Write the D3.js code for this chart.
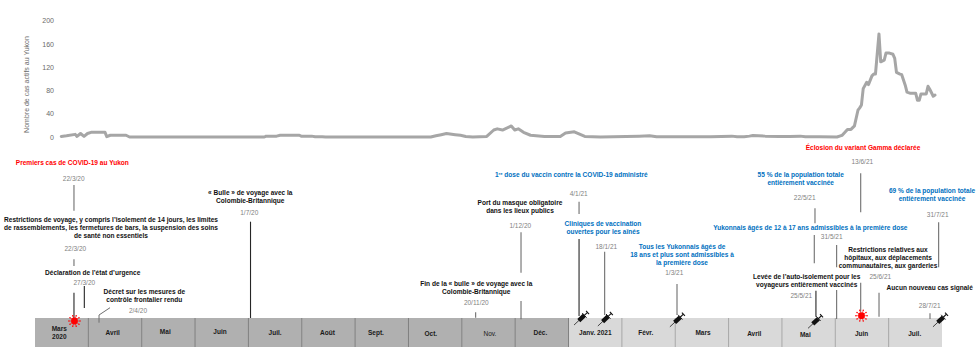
<!DOCTYPE html>
<html><head><meta charset="utf-8">
<script src="https://cdn.jsdelivr.net/npm/d3@7"></script>
<style>html,body{margin:0;padding:0;background:#fff}svg{display:block}text{font-family:"Liberation Sans",Arial,sans-serif}</style>
</head><body><svg id="c" width="980" height="360"></svg>
<script>
// ---- data ----
const monthLabels = [["Mars","2020"],["Avril"],["Mai"],["Juin"],["Juil."],["Août"],["Sept."],["Oct."],["Nov."],["Déc."],["Janv. 2021"],["Févr."],["Mars"],["Avril"],["Mai"],["Juin"],["Juil."]];
const yTicks = [0,40,80,120,160,200];
const caseDays = [15,18,23,24,26,28,30,32,40,41,43,52,54,131,132,138,140,151,152,158,160,164,166,226,229,232,235,240,243,246,250,258,262,264,267,270,272,274,276,279,283,291,300,303,308,311,314,323,345,351,355,386,398,401,405,408,410,417,425,431,437,440,448,458,460,461,464,466,468,470,471,472,473,475,476,478,479,480,482,483,485,486,488,490,491,492,494,495,497,498,500,503,504,505,506,509,510,511,513,514];
const caseValues = [1,2,4.5,1,6,1,6,8,8,0.5,3,3,0,0,1.5,1.5,3,3,1.5,1.5,0.5,0.5,0,0,2,4,6,4,3,1,0,1,12,14,12,16,19,12,14,8,3,1,1,7,9,5,1,0,1.5,2,0.5,0.5,1.5,0.5,0.5,1.5,2.5,1.5,1,1,1.5,0.5,0.5,0,2,3,13,13,19,46,50,55,83,94,90,105,108,108,177,129,132,144,144,142,135,111,108,107,89,77,75,75,63,63,74,74,87,82,70,72];

const noteTexts = [
 ["Premiers cas de COVID-19 au Yukon"],
 ["Restrictions de voyage, y compris l’isolement de 14 jours, les limites","de rassemblements, les fermetures de bars, la suspension des soins","de santé non essentiels"],
 ["Déclaration de l’état d’urgence"],
 ["Décret sur les mesures de","contrôle frontalier rendu"],
 ["« Bulle » de voyage avec la","Colombie-Britannique"],
 ["1re dose du vaccin contre la COVID-19 administré"],
 ["Port du masque obligatoire","dans les lieux publics"],
 ["Cliniques de vaccination","ouvertes pour les aînés"],
 ["Fin de la « bulle » de voyage avec la","Colombie-Britannique"],
 ["Tous les Yukonnais âgés de","18 ans et plus sont admissibles à","la première dose"],
 ["55 % de la population totale","entièrement vaccinée"],
 ["Éclosion du variant Gamma déclarée"],
 ["69 % de la population totale","entièrement vaccinée"],
 ["Yukonnais âgés de 12 à 17 ans admissibles à la première dose"],
 ["Restrictions relatives aux","hôpitaux, aux déplacements","communautaires, aux garderies"],
 ["Levée de l’auto-isolement pour les","voyageurs entièrement vaccinés"],
 ["Aucun nouveau cas signalé"]
];
const noteKinds = ["red","black","black","black","black","blue","black","blue","black","blue","blue","red","blue","blue","black","black","black"];
const dateLabels = ["22/3/20","22/3/20","27/3/20","2/4/20","1/7/20","20/11/20","1/12/20","4/1/21","18/1/21","1/3/21","22/5/21","31/5/21","25/5/21","13/6/21","25/6/21","31/7/21","28/7/21"];
const connectorDates = ["22/3/20","22/3/20","22/3/20","27/3/20","1/7/20","20/11/20","1/12/20","1/12/20","4/1/21","4/1/21","18/1/21","1/3/21","22/5/21","22/5/21","25/5/21","31/5/21","31/5/21","13/6/21","13/6/21","25/6/21","28/7/21","31/7/21"];
const syringeDates = ["4/1/21","18/1/21","1/3/21","25/5/21","28/7/21"];
const virusDates = ["22/3/20","13/6/21"];

// ---- hand placement of the annotations (kept apart from the data) ----
const notePlaces = [[72.3,[162.3]],[111,[220,227.8,235.7]],[92.7,[272.7]],[144.3,[291.3,299.7]],[250.3,[192.3,200.3]],[571.3,[174.3]],[520,[202.3,210.3]],[603,[223.3,231.7]],[476.3,[283.3,291.7]],[682,[246.7,254.7,262.7]],[800.7,[174.7,182.7]],[863,[147.3]],[932,[190.3,198.3]],[810.3,[227.7]],[888,[249.3,257.3,265.3]],[806.7,[276.3,284.3]],[929.7,[287.7]]];
const datePlaces = [[73.7,179],[75.3,248.3],[84.3,282.3],[138,310.3],[249.3,212.7],[476.3,302.7],[520.3,225.3],[578.7,193.7],[606.3,246.3],[674.3,272.7],[804.7,198],[831.7,236.7],[801.3,295.3],[862.3,161.3],[880.3,276.3],[937.7,214.3],[929.7,305.3]];
const connectorDx = [2.2,2.2,2.2,3.8,1.9,-21.6,4.5,4.5,3,3,4.1,2.9,-2.7,-3.4,-7,3.2,3.2,4.5,4.5,1.8,-5,-1.6];
const connectorSpans = [[185,210.7],[259.3,266],[292.7,318],[286,308],[221.7,318],[312.3,317.7],[232.3,272.7],[301,319.3],[201.7,214],[239,316],[251.7,315],[284,315],[208.3,223.3],[235,263.3],[290.7,316.7],[245,267.3],[290,319],[173.3,212.3],[282.7,311.7],[292.7,316.7],[313.3,319],[222.3,267.3]];
const connectorDark = [0,0,1,1,1,0,0,0,0,1,0,0,0,0,1,0,0,0,0,0,0,0];
const syringeDx = [5.3,4.6,3.1,-7.6,5.3];
const syringeY = [318.2,319.2,320,321.5,320];
const virusDx = [2.7,5.3];
const virusY = [321,315.7];
const monthDx = [-2.4,-2.3,-3.1,-1.7,0,-1,-5.8,-4.3,1.5,-1.5,0.1,-2.8,1.1,-1,-3.3,-0.3,-0.6];
const monthY = [[328.7,337],[332.7],[332],[332],[333],[333],[333],[333.7],[333.7],[333],[333],[333],[332.7],[333.7],[334.3],[333.7],[333.3]];

const colors = {red:"#ff0000",black:"#111111",blue:"#0070c0"};
const parseD = d3.timeParse("%d/%m/%y");
const start = new Date(2020,2,1), end = new Date(2021,7,1);
const left = 35, right = 942;
const timeX = d3.scaleTime().domain([start,end]).range([left,right]);
const y = d3.scaleLinear().domain([0,200]).range([137,20.5]);
const band = d3.scaleBand().domain(d3.range(monthLabels.length)).range([left,right]);
const svg = d3.select("#c");

// y axis
const ax = svg.append("g").attr("transform","translate(54,0)").call(d3.axisLeft(y).tickValues(yTicks).tickSize(0).tickPadding(0));
ax.select(".domain").remove();
ax.selectAll("text").attr("fill","#6a6a6a").style("font-size","7px").style("font-family","Liberation Sans");
svg.append("text").attr("transform","translate(27,84.5) rotate(-90)").attr("text-anchor","middle").attr("dy",".35em").attr("fill","#6a6a6a").style("font-size","7px").text("Nombre de cas actifs au Yukon");

// line
const line = d3.line().x((d,i)=>timeX(d3.timeDay.offset(start,d))).y((d,i)=>y(caseValues[i]));
svg.append("path").attr("d",line(caseDays)).attr("fill","none").attr("stroke","#a6a6a6").attr("stroke-width",3).attr("stroke-linejoin","round").attr("stroke-linecap","round");

// month bands
const isLight = i => i>=10;
svg.selectAll("rect.m").data(monthLabels).join("rect").attr("class","m")
 .attr("x",(d,i)=>band(i)).attr("width",band.bandwidth()).attr("y",318).attr("height",29)
 .attr("fill",(d,i)=>isLight(i)?"#d9d9d9":"#b0b0b0");
svg.selectAll("line.s").data(d3.range(1,monthLabels.length)).join("line").attr("class","s")
 .attr("x1",i=>band(i)).attr("x2",i=>band(i)).attr("y1",318).attr("y2",347)
 .attr("stroke",i=>i>10?"#a6a6a6":"#7f7f7f").attr("stroke-width",1);
monthLabels.forEach((ls,i)=>{
 ls.forEach((t,j)=>svg.append("text").attr("x",band(i)+band.bandwidth()/2+monthDx[i]).attr("y",monthY[i][j]).attr("dy",".35em")
  .attr("text-anchor","middle").attr("fill","#1a1a1a").attr("font-weight",t==="Nov."?"normal":"bold").style("font-size","6.5px").text(t));
});

// connectors
connectorDates.forEach((d,i)=>{
 const x = timeX(parseD(d))+connectorDx[i];
 svg.append("line").attr("x1",x).attr("x2",x).attr("y1",connectorSpans[i][0]).attr("y2",connectorSpans[i][1])
  .attr("stroke",connectorDark[i]?"#262626":"#6e6e6e").attr("stroke-width",1.1);
});
// elbow connector of 2/4/20
{const x=timeX(parseD("2/4/20"))+8;
 svg.append("path").attr("d",d3.line()([[x,322.7],[x,315],[x+11,307.7]])).attr("fill","none").attr("stroke","#6e6e6e").attr("stroke-width",1);}

// notes
noteTexts.forEach((ls,i)=>{
 ls.forEach((t,j)=>{
  const el = svg.append("text").attr("x",notePlaces[i][0]).attr("y",notePlaces[i][1][j]).attr("dy",".35em")
   .attr("text-anchor","middle").attr("font-weight","bold").attr("fill",colors[noteKinds[i]]).style("font-size","6.55px");
  if(t.startsWith("1re")){
   el.append("tspan").text("1");
   el.append("tspan").text("re").attr("dy","-1.6").style("font-size","4.2px");
   el.append("tspan").text(t.slice(3)).attr("dy","1.6");
  } else el.text(t);
 });
});
dateLabels.forEach((t,i)=>svg.append("text").attr("x",datePlaces[i][0]).attr("y",datePlaces[i][1]).attr("dy",".35em")
 .attr("text-anchor","middle").attr("fill","#7f7f7f").style("font-size","6.5px").text(t));

// virus icon
function virus(cx,cy){
 const g = svg.append("g").attr("transform",`translate(${cx},${cy})`).attr("fill","#ff0000");
 g.append("circle").attr("r",3.4);
 d3.range(10).forEach(k=>{
  const a=k/10*2*Math.PI;
  g.append("circle").attr("cx",5.6*Math.cos(a)).attr("cy",5.6*Math.sin(a)).attr("r",0.75);
  g.append("line").attr("x1",3*Math.cos(a)).attr("y1",3*Math.sin(a)).attr("x2",5.4*Math.cos(a)).attr("y2",5.4*Math.sin(a)).attr("stroke","#ff0000").attr("stroke-width",0.6);
 });
}
virusDates.forEach((d,i)=>virus(timeX(parseD(d))+virusDx[i],virusY[i]));

// syringe icon
function syringe(cx,cy){
 const g = svg.append("g").attr("transform",`translate(${cx},${cy}) rotate(-43)`);
 g.append("line").attr("x1",-10).attr("x2",-3).attr("stroke","#111").attr("stroke-width",0.7);
 g.append("rect").attr("x",-3.5).attr("y",-2.2).attr("width",7.5).attr("height",4.4).attr("fill","#111");
 g.append("line").attr("x1",4).attr("x2",8.5).attr("stroke","#111").attr("stroke-width",1.1);
 g.append("line").attr("x1",8.5).attr("x2",8.5).attr("y1",-2.2).attr("y2",2.2).attr("stroke","#111").attr("stroke-width",1.1);
 g.append("line").attr("x1",4.2).attr("x2",4.2).attr("y1",-3.2).attr("y2",3.2).attr("stroke","#111").attr("stroke-width",0.9);
}
syringeDates.forEach((d,i)=>syringe(timeX(parseD(d))+syringeDx[i],syringeY[i]));
</script></body></html>
